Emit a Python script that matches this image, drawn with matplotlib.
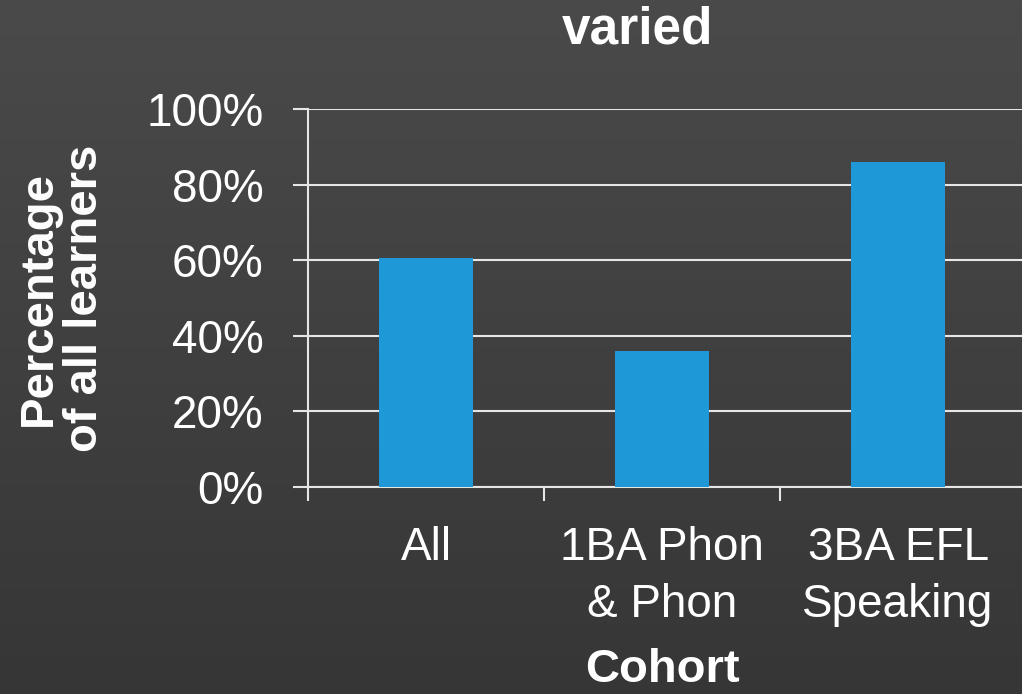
import numpy as np
import matplotlib
matplotlib.use("Agg")
import matplotlib.pyplot as plt
from matplotlib.colors import LinearSegmentedColormap

# data
cohorts = ["All", "1BA Phon\n& Phon", "3BA EFL\nSpeaking"]
pct = [60.5, 36, 86]
yticks = [0, 20, 40, 60, 80, 100]

plt.rcParams['font.family'] = ['Liberation Sans', 'DejaVu Sans']
fg = "white"
grid_c = "#e6e6e6"
bar_c = "#1e98d7"

fig = plt.figure(figsize=(10.22, 6.94), dpi=100)

# dark gradient background
bg = fig.add_axes([0, 0, 1, 1], zorder=-10)
grad = np.linspace(0, 1, 256).reshape(-1, 1)
cmap = LinearSegmentedColormap.from_list("bg", ["#4a4a4a", "#363636"])
bg.imshow(grad, aspect="auto", cmap=cmap, extent=[0, 1, 0, 1])
bg.axis("off")

ax = fig.add_axes([0.3014, 0.2983, 0.6986, 0.5447])
ax.patch.set_alpha(0)
x = np.arange(len(cohorts))
ax.bar(x, pct, width=0.4, color=bar_c, zorder=3)

ax.set_xlim(-0.5, 2.525)
ax.set_ylim(0, 100)
ax.set_yticks(yticks)
ax.set_yticklabels([f"{v}%" for v in yticks])
ax.yaxis.grid(True, color=grid_c, linewidth=1.5, zorder=0)
ax.tick_params(axis="y", length=11, width=1.5, color=grid_c, labelsize=33, labelcolor=fg, pad=21)

ax.set_xticks(x)
ax.set_xticklabels(cohorts, linespacing=1.38)
ax.tick_params(axis="x", which="major", length=0, labelsize=33, labelcolor=fg, pad=28)
ax.set_xticks([-0.5, 0.5, 1.5], minor=True)
ax.tick_params(axis="x", which="minor", length=10, width=1.5, color=grid_c)

for s in ["top", "right"]:
    ax.spines[s].set_visible(False)
for s in ["left", "bottom"]:
    ax.spines[s].set_color(grid_c)
    ax.spines[s].set_linewidth(1.5)

fig.text(0.648, 1 - 670 / 694, "Cohort", ha="center", va="center",
         fontsize=34, fontweight="bold", color=fg)
fig.text(62 / 1022, 1 - 298 / 694, "Percentage\nof all learners", ha="center", va="center",
         rotation=90, fontsize=34, fontweight="bold", color=fg, linespacing=1.07)
fig.text(0.624, 1 - 30 / 694, "varied", ha="center", va="center",
         fontsize=37, fontweight="bold", color=fg)

fig.savefig("out.png", dpi=100)
